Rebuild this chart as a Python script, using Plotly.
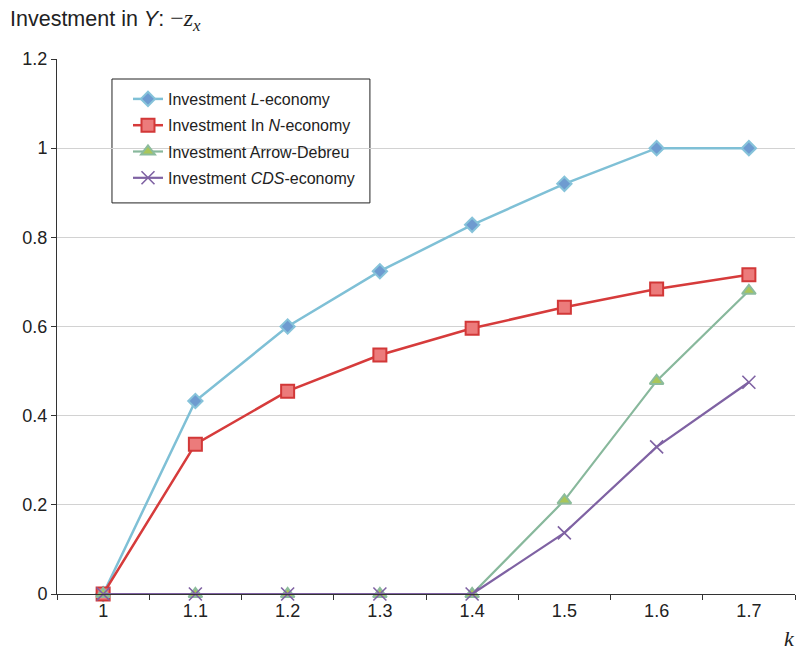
import plotly.graph_objects as go

# k values on the horizontal axis
k_values = ["1", "1.1", "1.2", "1.3", "1.4", "1.5", "1.6", "1.7"]

# Investment in Y for each economy
invest_L = [0.0, 0.433, 0.600, 0.724, 0.828, 0.920, 1.0, 1.0]
invest_N = [0.0, 0.336, 0.455, 0.536, 0.596, 0.643, 0.684, 0.716]
invest_AD = [0.0, 0.0, 0.0, 0.0, 0.0, 0.210, 0.478, 0.680]
invest_CDS = [0.0, 0.0, 0.0, 0.0, 0.0, 0.137, 0.330, 0.475]

y_ticks = [0, 0.2, 0.4, 0.6, 0.8, 1.0, 1.2]

fig = go.Figure()

fig.add_trace(go.Scatter(
    x=k_values, y=invest_L, mode="lines+markers",
    name="Investment <i>L</i>-economy", cliponaxis=False, legendgroup="L",
    line=dict(color="#7fc0d6", width=2.5),
    marker=dict(symbol="diamond", size=11, color="#6e9bd0",
                line=dict(color="#86c3da", width=2)),
))
fig.add_trace(go.Scatter(
    x=k_values, y=invest_N, mode="lines+markers",
    name="Investment In <i>N</i>-economy", cliponaxis=False, legendgroup="N",
    line=dict(color="#d63b3b", width=2.5),
    marker=dict(symbol="square", size=13, color="#ec7b7b",
                line=dict(color="#d23838", width=2)),
))
fig.add_trace(go.Scatter(
    x=k_values, y=invest_AD, mode="lines+markers",
    name="Investment Arrow-Debreu", cliponaxis=False, legendgroup="AD",
    line=dict(color="#88b89c", width=2.2),
    marker=dict(symbol="triangle-up", size=12, color="#a9c65a",
                line=dict(color="#8cbc9c", width=2)),
))
fig.add_trace(go.Scatter(
    x=k_values, y=invest_CDS, mode="lines+markers",
    name="Investment <i>CDS</i>-economy", cliponaxis=False, legendgroup="CDS",
    line=dict(color="#7f62a3", width=2.2),
    marker=dict(symbol="x-thin", size=13, color="#7f62a3",
                line=dict(color="#7f62a3", width=1.6)),
))

fig.update_layout(
    width=802, height=653,
    margin=dict(l=57, r=7, t=59, b=59),
    paper_bgcolor="white", plot_bgcolor="white",
    font=dict(family="Liberation Sans, Arial, sans-serif", size=18, color="#222222"),
    showlegend=True,
    legend=dict(
        x=0.0962, y=0.957, xanchor="left", yanchor="top",
        bgcolor="rgba(0,0,0,0)", borderwidth=0,
        font=dict(size=16, color="#222222"),
        itemwidth=30, tracegroupgap=2.5, traceorder="grouped",
    ),
    xaxis=dict(
        type="category", categoryorder="array", categoryarray=k_values,
        range=[-0.5, 7.5], tickson="boundaries",
        ticks="outside", ticklen=5, tickcolor="#333333",
        showline=True, linecolor="#333333", linewidth=1,
        showgrid=False, zeroline=False,
        tickfont=dict(size=18),
    ),
    yaxis=dict(
        range=[0, 1.2], tickvals=y_ticks,
        ticktext=["0", "0.2", "0.4", "0.6", "0.8", "1", "1.2"],
        ticks="outside", ticklen=5, tickcolor="#333333",
        showline=True, linecolor="#333333", linewidth=1,
        showgrid=True, gridcolor="#d2d2d2", gridwidth=1,
        zeroline=False, tickfont=dict(size=18),
    ),
    # legend frame
    shapes=[dict(
        type="rect", xref="paper", yref="paper", layer="below",
        x0=0.0745, x1=0.424, y0=0.731, y1=0.9626,
        fillcolor="white", line=dict(color="#222222", width=1),
    )],
)

fig.add_annotation(
    xref="paper", yref="paper", x=-0.067, y=1.072,
    xanchor="left", yanchor="middle", showarrow=False,
    text=("Investment in <i>Y</i>: "
          "<span style='font-family:Liberation Serif, Times New Roman, serif;font-size:24px'>"
          "\u2212<i>z</i><sub><i>x</i></sub></span>"),
    font=dict(size=21.5, color="#222222"),
)
fig.add_annotation(
    xref="paper", yref="paper", x=0.993, y=-0.083,
    xanchor="center", yanchor="middle", showarrow=False,
    text="<i>k</i>",
    font=dict(family="Liberation Serif, Times New Roman, serif", size=22, color="#222222"),
)

fig.write_html("out.html")
